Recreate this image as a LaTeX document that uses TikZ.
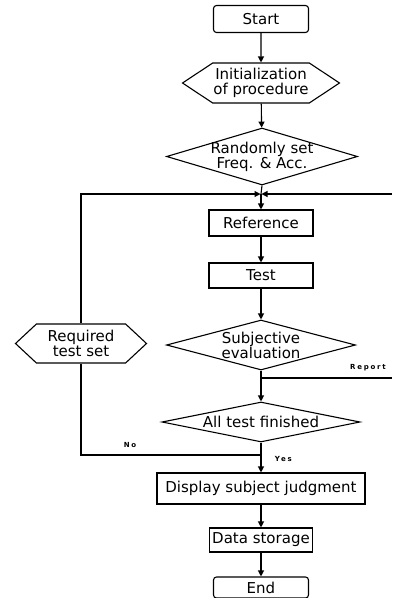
\documentclass[tikz,border=0pt]{standalone}
\usepackage{fontspec}
\setmainfont{DejaVu Sans}
\newfontfamily\tagfont[LetterSpace=25]{DejaVu Sans}
\usetikzlibrary{arrows.meta,shapes.geometric,shapes.symbols}

\begin{document}
\begin{tikzpicture}[x=1pt,y=-1pt,line width=1.1pt,
  font=\fontsize{15}{15}\selectfont,
  arr/.style={-{Triangle[length=6pt,width=6pt]}},
  termbox/.style={draw,rounded corners=3pt,minimum width=95,minimum height=27},
  procbox/.style={draw,inner sep=1pt},
  hexbox/.style={draw,signal,signal to=west and east,align=center,inner sep=0pt},
  decision/.style={draw,diamond,aspect=#1,align=center,inner sep=-4pt},
  tag/.style={font=\tagfont\fontsize{7}{8}\selectfont\bfseries}]
\path[use as bounding box] (0,0) rectangle (392,598);
\node[termbox] (start) at (261,19) {Start};
\node[hexbox,signal pointer angle=67,minimum width=157,minimum height=40] (init) at (261,83) {Initialization\\of procedure};
\node[decision=3.35,minimum width=191,minimum height=57] (rand) at (262,156.5) {Randomly set\\Freq. \& Acc.};
\coordinate (merge) at (261,194);
\coordinate (rtop) at (392,194);
\node[procbox,minimum width=104,minimum height=26] (ref) at (261,223) {Reference};
\node[procbox,minimum width=104,minimum height=25] (test) at (261,275.5) {Test};
\node[decision=3.78,minimum width=189,minimum height=50] (subj) at (261,345) {Subjective\\evaluation};
\coordinate (rjoin) at (261,378);
\coordinate (rpt) at (392,378);
\node[decision=4.95,minimum width=198,minimum height=40] (fin) at (261,422) {All test finished};
\coordinate (njoin) at (261,455);
\node[hexbox,signal pointer angle=86,minimum width=131,minimum height=39] (req) at (81,343.5) {Required\\test set};
\node[procbox,minimum width=208,minimum height=31] (disp) at (261,488.5) {Display subject judgment};
\node[procbox,minimum width=103,minimum height=24] (store) at (261,540) {Data storage};
\node[termbox,minimum height=21] (end) at (261,587.5) {End};
\draw[arr] (start) -- (init);
\draw[arr] (init) -- (rand);
\draw (rand.south) -- (merge);
\draw[arr] (merge) -- (ref);
\draw[arr] (ref) -- (test);
\draw[arr] (test) -- (subj);
\draw (subj.south) -- (rjoin);
\draw[arr] (rjoin) -- (fin);
\draw (rjoin) -- (rpt);
\node[tag] (report) at (368,368) {Report};
\draw[arr] (rtop) -- ([xshift=0.5]merge);
\draw (fin.south) -- (njoin);
\draw[arr] (njoin) -- (disp);
\draw (njoin) -| (req.south);
\draw[arr] (req.north) |- ([xshift=-0.5]merge);
\node[tag] (no) at (130,445) {No};
\node[tag,anchor=west] (yes) at (271,459) {Yes};
\draw[arr] (disp) -- (store);
\draw[arr] (store) -- (end);
\end{tikzpicture}
\end{document}
